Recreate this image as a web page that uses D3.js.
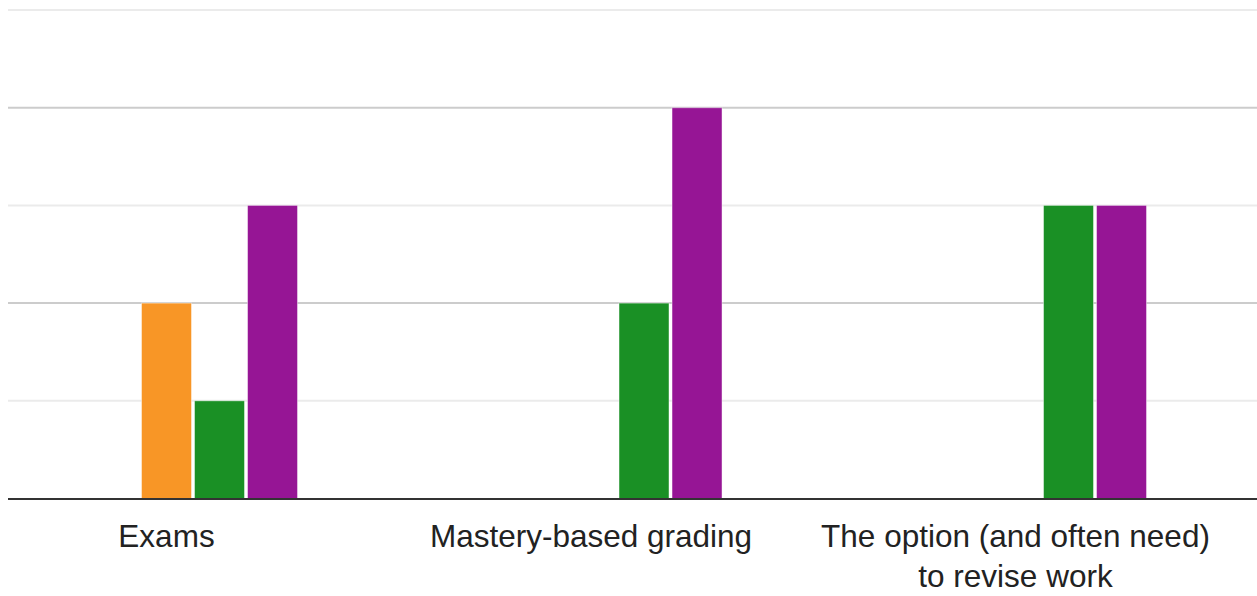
<!DOCTYPE html>
<html>
<head>
<meta charset="utf-8">
<script src="https://cdn.jsdelivr.net/npm/d3@7"></script>
<style>
  html, body { margin: 0; padding: 0; background: #fff; }
  svg { display: block; }
  text { font-family: "Liberation Sans", Arial, sans-serif; }
</style>
</head>
<body>
<svg id="chart" width="1257" height="596"></svg>
<script>
// Categories (x-axis labels; "\n" marks a line break)
const categories = [
  "Exams",
  "Mastery-based grading",
  "The option (and often need)\nto revise work"
];

// Rating columns of the grid question, one bar series each
const seriesNames = ["1", "2", "3", "4", "5"];
const seriesColors = ["#3366cc", "#dc3912", "#f89626", "#1a9025", "#961595"];

// Response counts, one array per series (index follows categories)
const rating1 = [0, 0, 0];
const rating2 = [0, 0, 0];
const rating3 = [2, 0, 0];
const rating4 = [1, 2, 3];
const rating5 = [3, 4, 3];
const seriesValues = [rating1, rating2, rating3, rating4, rating5];

// Y gridline values: majors at even counts, minors at odd ones
const yMax = 5;
const majorTicks = [2, 4];
const minorTicks = [1, 3, 5];

const svg = d3.select("#chart");
const W = 1257;
const plotLeft = 8, plotRight = W;
const yBase = 498.5, yTop = 10;

// Band step matches the full chart width; the left part lies off-canvas
const bandStep = 424.5;
const x0 = d3.scaleBand()
  .domain(categories)
  .range([166.5 - bandStep / 2, 166.5 - bandStep / 2 + bandStep * categories.length])
  .paddingInner(0).paddingOuter(0);

const groupWidth = 265;
const x1 = d3.scaleBand()
  .domain(seriesNames)
  .range([(bandStep - groupWidth) / 2, (bandStep + groupWidth) / 2])
  .paddingInner(0.057).paddingOuter(0.028);

const y = d3.scaleLinear().domain([0, yMax]).range([yBase, yTop]);

// Gridlines
const grid = svg.append("g");
grid.selectAll("line.minor").data(minorTicks).join("line")
  .attr("class", "minor")
  .attr("x1", plotLeft).attr("x2", plotRight)
  .attr("y1", d => y(d)).attr("y2", d => y(d))
  .attr("stroke", "#ebebeb").attr("stroke-width", 2);
grid.selectAll("line.major").data(majorTicks).join("line")
  .attr("class", "major")
  .attr("x1", plotLeft).attr("x2", plotRight)
  .attr("y1", d => y(d)).attr("y2", d => y(d))
  .attr("stroke", "#cccccc").attr("stroke-width", 2);

// Bars
const rows = categories.map((c, i) => ({
  cat: c,
  vals: seriesNames.map((s, j) => ({ s, v: seriesValues[j][i], color: seriesColors[j] }))
}));

const groups = svg.append("g").selectAll("g").data(rows).join("g")
  .attr("transform", d => `translate(${x0(d.cat)},0)`);

groups.selectAll("rect").data(d => d.vals.filter(e => e.v > 0)).join("rect")
  .attr("x", d => x1(d.s))
  .attr("width", x1.bandwidth())
  .attr("y", d => y(d.v))
  .attr("height", d => y(0) - y(d.v))
  .attr("fill", d => d.color)
  .attr("stroke", "#ffffff")
  .attr("stroke-opacity", 0.45)
  .attr("stroke-width", 1);

// Baseline
svg.append("line")
  .attr("x1", plotLeft).attr("x2", plotRight)
  .attr("y1", y(0) + 0.5).attr("y2", y(0) + 0.5)
  .attr("stroke", "#333333").attr("stroke-width", 2);

// Category labels via a bottom axis
const xAxis = d3.axisBottom(x0).tickSize(0).tickPadding(0);
const axisG = svg.append("g")
  .attr("transform", `translate(0,${yBase})`)
  .call(xAxis);
axisG.select(".domain").remove();
axisG.selectAll(".tick text").each(function(d) {
  const t = d3.select(this);
  t.text(null)
    .attr("y", 0).attr("dy", null)
    .attr("fill", "#222222")
    .style("font-size", "31.5px")
    .style("font-family", "'Liberation Sans', Arial, sans-serif");
  d.split("\n").forEach((line, k) => {
    t.append("tspan")
      .attr("x", 0)
      .attr("y", 48 + k * 40)
      .text(line);
  });
});
</script>
</body>
</html>
